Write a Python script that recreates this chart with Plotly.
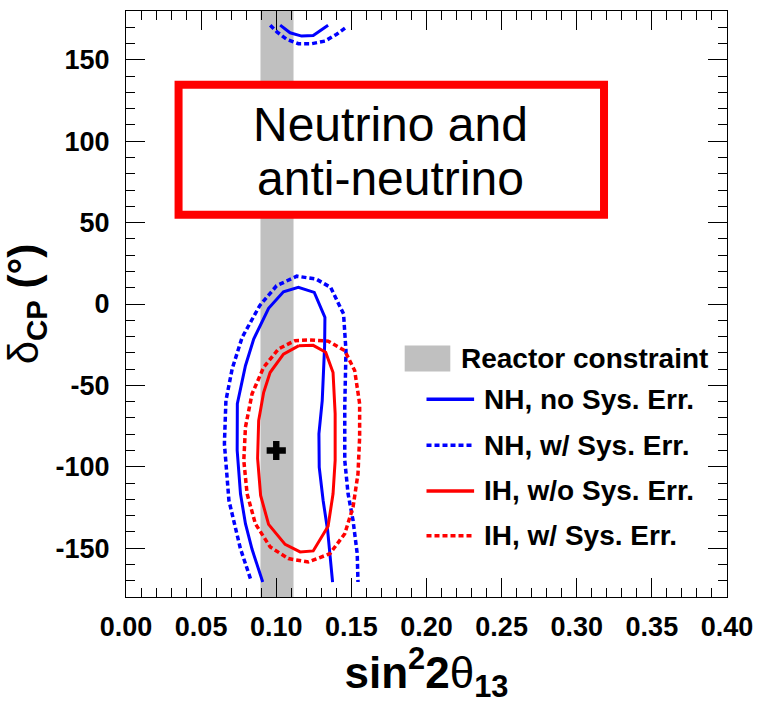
import plotly.graph_objects as go

# ---- data ----
# NH, no systematic error (solid blue): main lobe (bottom -> over top -> bottom), plus wrapped top piece
nh_nosys_x = [0.0910, 0.0839, 0.0795, 0.0762, 0.0740, 0.0741, 0.0795, 0.0850, 0.0949, 0.1048,
              0.1147, 0.1253, 0.1324, 0.1322, 0.1306, 0.1284, 0.1286, 0.1312, 0.1342, 0.1375]
nh_nosys_y = [-170.8, -150.7, -135.0, -116.6, -90.0, -61.3, -37.9, -21.5, -2.6, 7.5,
              10.2, 7.1, -8.2, -25.6, -59.3, -79.8, -100.2, -120.7, -139.1, -170.8]
nh_nosys_top_x = [0.1026, 0.1092, 0.1169, 0.1246, 0.1345]
nh_nosys_top_y = [171.3, 166.6, 164.6, 165.0, 171.3]

# NH, with systematic error (dotted blue)
nh_sys_x = [0.0828, 0.0761, 0.0685, 0.0655, 0.0665, 0.0707, 0.0773, 0.0890, 0.1002, 0.1137,
            0.1266, 0.1362, 0.1448, 0.1464, 0.1456, 0.1456, 0.1478, 0.1511, 0.1539, 0.1544]
nh_sys_y = [-168.7, -150.1, -120.7, -85.9, -59.3, -39.7, -20.5, -1.0, 11.2, 17.1,
            15.3, 10.2, -6.1, -28.7, -63.4, -96.1, -116.6, -132.9, -153.4, -170.8]
nh_sys_top_x = [0.0960, 0.1004, 0.1070, 0.1147, 0.1235, 0.1324, 0.1400, 0.1466]
nh_sys_top_y = [171.3, 167.2, 162.6, 159.9, 159.9, 161.5, 165.6, 170.1]

# IH, without systematic error (solid red, closed)
ih_nosys_x = [0.1151, 0.1246, 0.1329, 0.1378, 0.1392, 0.1392, 0.1378, 0.1345, 0.1246, 0.1159,
              0.1059, 0.0949, 0.0896, 0.0876, 0.0883, 0.0916, 0.0959, 0.1048, 0.1151]
ih_nosys_y = [-25.6, -25.4, -29.6, -42.1, -67.5, -96.1, -116.6, -136.6, -151.7, -152.3,
              -147.7, -135.4, -117.6, -94.9, -71.6, -54.4, -42.1, -30.8, -25.6]

# IH, with systematic error (dotted red, closed)
ih_sys_x = [0.1225, 0.1345, 0.1456, 0.1522, 0.1555, 0.1555, 0.1544, 0.1511, 0.1456, 0.1357,
            0.1213, 0.1081, 0.0960, 0.0861, 0.0806, 0.0784, 0.0795, 0.0839, 0.0916, 0.1015,
            0.1125, 0.1225]
ih_sys_y = [-22.1, -22.8, -28.7, -40.9, -61.3, -81.8, -104.3, -124.8, -141.1, -153.4,
            -158.5, -156.4, -149.3, -135.0, -116.6, -96.1, -75.7, -55.2, -38.9, -27.6,
            -22.5, -22.1]

reactor_lo, reactor_hi = 0.0895, 0.1115
best_fit_x = [0.100]
best_fit_y = [-90.0]

x_ticks = [0.00, 0.05, 0.10, 0.15, 0.20, 0.25, 0.30, 0.35, 0.40]
x_ticklabels = ["0.00", "0.05", "0.10", "0.15", "0.20", "0.25", "0.30", "0.35", "0.40"]
y_ticks = [-150, -100, -50, 0, 50, 100, 150]
y_ticklabels = ["-150", "-100", "-50", "0", "50", "100", "150"]

legend_labels = ["Reactor constraint", "NH, no Sys. Err.", "NH, w/ Sys. Err.",
                 "IH, w/o Sys. Err.", "IH, w/ Sys. Err."]
box_lines = ["Neutrino and", "anti-neutrino"]

BLUE = "#0000ff"
RED = "#ff0000"
GRAY = "#c0c0c0"
FONT = "Liberation Sans, Arial, sans-serif"
DOT = "5px,3px"

W, H = 763, 704
ML, MR, MT, MB = 126, 31, 10, 107
PW, PH = W - ML - MR, H - MT - MB


def px(xp):
    return (xp - ML) / PW


def py(yp):
    return (H - MB - yp) / PH


fig = go.Figure()

fig.add_trace(go.Scatter(x=nh_sys_x + [None] + nh_sys_top_x, y=nh_sys_y + [None] + nh_sys_top_y,
                         mode="lines", line=dict(color=BLUE, width=3.5, dash=DOT),
                         name=legend_labels[2], showlegend=False))
fig.add_trace(go.Scatter(x=nh_nosys_x + [None] + nh_nosys_top_x, y=nh_nosys_y + [None] + nh_nosys_top_y,
                         mode="lines", line=dict(color=BLUE, width=3),
                         name=legend_labels[1], showlegend=False))
fig.add_trace(go.Scatter(x=ih_sys_x, y=ih_sys_y, mode="lines",
                         line=dict(color=RED, width=3.5, dash=DOT),
                         name=legend_labels[4], showlegend=False))
fig.add_trace(go.Scatter(x=ih_nosys_x, y=ih_nosys_y, mode="lines",
                         line=dict(color=RED, width=3),
                         name=legend_labels[3], showlegend=False))
fig.add_trace(go.Scatter(x=best_fit_x, y=best_fit_y, mode="markers",
                         marker=dict(symbol="cross", size=16, color="black"),
                         showlegend=False))

shapes = []
# reactor band
shapes.append(dict(type="rect", xref="x", yref="paper", x0=reactor_lo, x1=reactor_hi, y0=0, y1=1,
                   fillcolor=GRAY, line=dict(width=0), layer="below"))
# red text box
shapes.append(dict(type="rect", xref="paper", yref="paper",
                   x0=px(179), x1=px(608), y0=py(214), y1=py(84),
                   fillcolor="white", line=dict(color=RED, width=8), layer="above"))
# legend symbols
shapes.append(dict(type="rect", xref="paper", yref="paper",
                   x0=px(407), x1=px(453), y0=py(371), y1=py(345),
                   fillcolor=GRAY, line=dict(width=0)))
leg_y = [399, 445, 490.7, 535.7]
leg_style = [(BLUE, "solid", 3.5), (BLUE, DOT, 3.5), (RED, "solid", 3.5), (RED, DOT, 3.5)]
for yy, (c, d, w) in zip(leg_y, leg_style):
    shapes.append(dict(type="line", xref="paper", yref="paper",
                       x0=px(429), x1=px(477), y0=py(yy), y1=py(yy),
                       line=dict(color=c, width=w, dash=d)))

annotations = []
annotations.append(dict(xref="paper", yref="paper", x=px(462), y=py(358), xanchor="left", yanchor="middle",
                        text="<b>" + legend_labels[0] + "</b>", showarrow=False,
                        font=dict(family=FONT, size=28, color="black")))
for yy, lab in zip(leg_y, legend_labels[1:]):
    annotations.append(dict(xref="paper", yref="paper", x=px(485), y=py(yy), xanchor="left", yanchor="middle",
                            text="<b>" + lab + "</b>", showarrow=False,
                            font=dict(family=FONT, size=28, color="black")))
for yy, line in zip([124, 178], box_lines):
    annotations.append(dict(xref="paper", yref="paper", x=px(393), y=py(yy), xanchor="center", yanchor="middle",
                            text=line, showarrow=False,
                            font=dict(family=FONT, size=48, color="black")))

axis_common = dict(showgrid=False, zeroline=False, showline=True, linecolor="black", linewidth=1,
                   mirror="allticks", ticks="inside", ticklen=19, tickwidth=1, tickcolor="black",
                   tickfont=dict(family=FONT, size=27, color="black"))

fig.update_layout(
    width=W, height=H,
    margin=dict(l=ML, r=MR, t=MT, b=MB),
    paper_bgcolor="white", plot_bgcolor="white",
    shapes=shapes, annotations=annotations,
    xaxis=dict(range=[0, 0.40], tickvals=x_ticks, ticktext=["<b>%s</b>" % t for t in x_ticklabels],
               minor=dict(dtick=0.01, ticks="inside", ticklen=9, tickcolor="black", tickwidth=1),
               ticklabelstandoff=6,
               title=dict(text="<b>sin<sup>2</sup>2</b>θ<b><sub>13</sub></b>",
                          font=dict(family=FONT, size=44, color="black"), standoff=4),
               **axis_common),
    yaxis=dict(range=[-180, 180], tickvals=y_ticks, ticktext=["<b>%s</b>" % t for t in y_ticklabels],
               minor=dict(dtick=10, ticks="inside", ticklen=9, tickcolor="black", tickwidth=1),
               ticklabelstandoff=10,
               title=dict(text="δ<b><sub>CP</sub> (°)</b>",
                          font=dict(family=FONT, size=42, color="black"), standoff=4),
               **axis_common),
)

fig.write_html("out.html")
